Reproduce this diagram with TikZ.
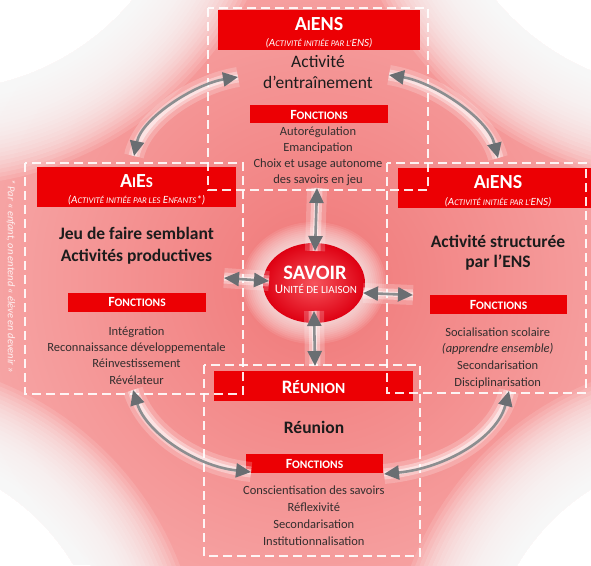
\documentclass[tikz,border=0pt]{standalone}
\usepackage{fontspec}
\setmainfont{Carlito}
\usetikzlibrary{arrows.meta,shapes.geometric}

\definecolor{barred}{RGB}{236,0,4}
\definecolor{bgpink}{RGB}{247,168,168}
\definecolor{bgcore}{RGB}{240,120,120}
\definecolor{linkgrey}{RGB}{140,142,144}
\definecolor{tipgrey}{RGB}{106,110,114}
\definecolor{bodyink}{RGB}{28,28,28}
\definecolor{itemink}{RGB}{52,46,46}
\definecolor{ovalred}{RGB}{222,0,18}
\definecolor{ovallight}{RGB}{246,84,92}

% text at a given size, used for the small capitals
\newcommand{\sz}[2]{{\fontsize{#1}{#1}\selectfont #2}}

\begin{document}
\begin{tikzpicture}[x=1pt,y=-1pt,
  bar/.style={fill=barred, draw=none, inner sep=0pt, outer sep=0pt},
  frame/.style={draw=white, line width=1.6pt, dash pattern=on 9pt off 5pt, opacity=0.9},
  ttl/.style={text=white, anchor=base, inner sep=0pt, font=\bfseries},
  sub/.style={text=white, anchor=base, inner sep=0pt, font=\itshape},
  fn/.style={text=white, anchor=base, inner sep=0pt, font=\bfseries},
  body/.style={text=bodyink, anchor=base, inner sep=0pt, font=\fontsize{17.5}{20}\selectfont\bfseries},
  item/.style={text=itemink, anchor=base, inner sep=0pt, font=\fontsize{12.5}{14}\selectfont},
  >={Triangle[length=15pt,width=14pt,color=tipgrey]},
  link/.style={draw=linkgrey, line width=2.6pt, <->,
    preaction={draw=white, line width=20pt, opacity=0.2, arrows=-},
    preaction={draw=white, line width=11pt, opacity=0.35, arrows=-},
    preaction={draw=white, line width=5pt, opacity=0.5, arrows=-}},
  haze/.style={fill=white, opacity=0.12},
]
\useasboundingbox (0,0) rectangle (591,565);

% background glow
\fill[bgpink] (0,0) rectangle (591,565);
\shade[inner color=bgcore, outer color=bgpink] (314,283) circle (360);
% white corners with soft rims
\fill[white] (-60,-160) circle (250);
\fill[white] (688,-160) circle (250);
\fill[white] (-120,680) circle (225);
\fill[white] (711,680) circle (225);
\foreach \r in {4,8,...,96} {
  \fill[haze] (-60,-160) circle ({250+\r});
  \fill[haze] (688,-160) circle ({250+\r});
  \fill[haze] (-120,680) circle ({225+\r});
  \fill[haze] (711,680) circle ({225+\r});
}

% red title bars
\node[bar, minimum width=202, minimum height=40] (topbar) at (319,30) {};
\node[bar, minimum width=199, minimum height=40] (leftbar) at (136.5,187) {};
\node[bar, minimum width=197, minimum height=40] (rightbar) at (496.5,188) {};
\node[bar, minimum width=199, minimum height=30] (botbar) at (313.5,386) {};

% "Fonctions" bars
\node[bar, minimum width=138, minimum height=18] (topfnbar) at (319,114) {};
\node[bar, minimum width=138, minimum height=19] (leftfnbar) at (137,302) {};
\node[bar, minimum width=137, minimum height=19] (rightfnbar) at (498.5,304) {};
\node[bar, minimum width=137, minimum height=19] (botfnbar) at (314.5,463.5) {};

% dashed frames of the four activities
\draw[frame] (208,8) rectangle (428,190);
\draw[frame] (25,163) rectangle (243,394);
\draw[frame] (387,163) rectangle (586,393);
\draw[frame] (204,365) rectangle (420,556);

% central oval with its halo
\foreach \r in {0,2,...,20} {
  \fill[white, opacity=0.09] (314,283) ellipse ({52+\r} and {41+\r});
}
\node[ellipse, minimum width=102, minimum height=80, inner sep=0pt,
      inner color=ovallight, outer color=ovalred] (savoir) at (314,283) {};

% arrow end points
\coordinate (tlA) at (134,156);  \coordinate (tlB) at (238,77);
\coordinate (trA) at (389,75);   \coordinate (trB) at (498,158);
\coordinate (blA) at (133,390);  \coordinate (blB) at (251,472);
\coordinate (brA) at (509,391);  \coordinate (brB) at (384,474);
\coordinate (upA) at (317,188);  \coordinate (upB) at (315,251);
\coordinate (dnA) at (314,311);  \coordinate (dnB) at (315,366);
\coordinate (lfA) at (224,278);  \coordinate (lfB) at (269,281);
\coordinate (rtA) at (363,293);  \coordinate (rtB) at (413,295);

% curved links between neighbouring activities
\draw[link] (tlA) .. controls (142,118) and (195,84) .. (tlB);
\draw[link] (trA) .. controls (433,82) and (488,118) .. (trB);
\draw[link] (blA) .. controls (146,432) and (195,466) .. (blB);
\draw[link] (brA) .. controls (497,438) and (445,468) .. (brB);

% links to the central oval
\draw[link] (upA) -- (upB);
\draw[link] (dnA) -- (dnB);
\draw[link] (lfA) -- (lfB);
\draw[link] (rtA) -- (rtB);

% oval text
\node[ttl, font=\fontsize{20.5}{21}\selectfont\bfseries] (savoirtxt) at (315,279) {SAVOIR};
\node[ttl, font=\fontsize{13}{13}\selectfont] (liaisontxt) at (316,293.3) {U\sz{11}{NITÉ DE LIAISON}};

% top activity
\node[ttl, font=\fontsize{20}{20}\selectfont\bfseries] (topttl) at (319,30) {A\sz{15}{I}ENS};
\node[sub, font=\fontsize{11}{11}\selectfont\itshape] (topsub) at (319,46.5) {(A\sz{8.7}{CTIVITÉ INITIÉE PAR L’}ENS)};
\node[body, font=\fontsize{17.5}{20}\selectfont] (topbody1) at (318,67) {Activité};
\node[body, font=\fontsize{17.5}{20}\selectfont] (topbody2) at (318,88) {d’entraînement};
\node[fn, font=\fontsize{14}{14}\selectfont\bfseries] (topfn) at (319,119) {F\sz{11.5}{ONCTIONS}};
\node[item] (topit1) at (318,135) {Autorégulation};
\node[item] (topit2) at (318,151) {Emancipation};
\node[item] (topit3) at (318,167) {Choix et usage autonome};
\node[item] (topit4) at (318,183) {des savoirs en jeu};

% left activity
\node[ttl, font=\fontsize{20}{20}\selectfont\bfseries] (leftttl) at (136.5,187) {A\sz{15}{I}E\sz{15}{S}};
\node[sub, font=\fontsize{11}{11}\selectfont\itshape] (leftsub) at (136.5,203.5) {(A\sz{8.7}{CTIVITÉ INITIÉE PAR LES} E\sz{8.7}{NFANTS}*)};
\node[body] (leftbody1) at (136.5,239) {Jeu de faire semblant};
\node[body] (leftbody2) at (136.5,261.5) {Activités productives};
\node[fn, font=\fontsize{14}{14}\selectfont\bfseries] (leftfn) at (137,306.5) {F\sz{11.5}{ONCTIONS}};
\node[item] (leftit1) at (136.5,335) {Intégration};
\node[item] (leftit2) at (136.5,351) {Reconnaissance développementale};
\node[item] (leftit3) at (136.5,367.5) {Réinvestissement};
\node[item] (leftit4) at (136.5,384) {Révélateur};

% right activity
\node[ttl, font=\fontsize{20}{20}\selectfont\bfseries] (rightttl) at (498,188.3) {A\sz{15}{I}ENS};
\node[sub, font=\fontsize{11}{11}\selectfont\itshape] (rightsub) at (498,205) {(A\sz{8.7}{CTIVITÉ INITIÉE PAR L’}ENS)};
\node[body] (rightbody1) at (498,247.7) {Activité structurée};
\node[body] (rightbody2) at (498,267.7) {par l’ENS};
\node[fn, font=\fontsize{14}{14}\selectfont\bfseries] (rightfn) at (498.5,309.5) {F\sz{11.5}{ONCTIONS}};
\node[item] (rightit1) at (497.7,336.7) {Socialisation scolaire};
\node[item, font=\fontsize{12.5}{14}\selectfont\itshape] (rightit2) at (497.7,352.3) {(apprendre ensemble)};
\node[item] (rightit3) at (497.7,369.3) {Secondarisation};
\node[item] (rightit4) at (497.7,386.5) {Disciplinarisation};

% bottom activity
\node[ttl, font=\fontsize{19}{19}\selectfont\bfseries] (botttl) at (313.5,393.3) {R\sz{15.5}{ÉUNION}};
\node[body] (botbody) at (314,433.3) {Réunion};
\node[fn, font=\fontsize{14}{14}\selectfont\bfseries] (botfn) at (314.5,468.3) {F\sz{11.5}{ONCTIONS}};
\node[item] (botit1) at (313.8,494) {Conscientisation des savoirs};
\node[item] (botit2) at (313.8,511.5) {Réflexivité};
\node[item] (botit3) at (313.8,528.3) {Secondarisation};
\node[item] (botit4) at (313.8,545.5) {Institutionnalisation};

% side note
\node[text=white, opacity=0.85, rotate=-90, inner sep=0pt,
      font=\fontsize{10.5}{11}\selectfont\itshape] (note) at (11,276)
  {* Par « enfant, on entend « élève en devenir »};
\end{tikzpicture}
\end{document}
